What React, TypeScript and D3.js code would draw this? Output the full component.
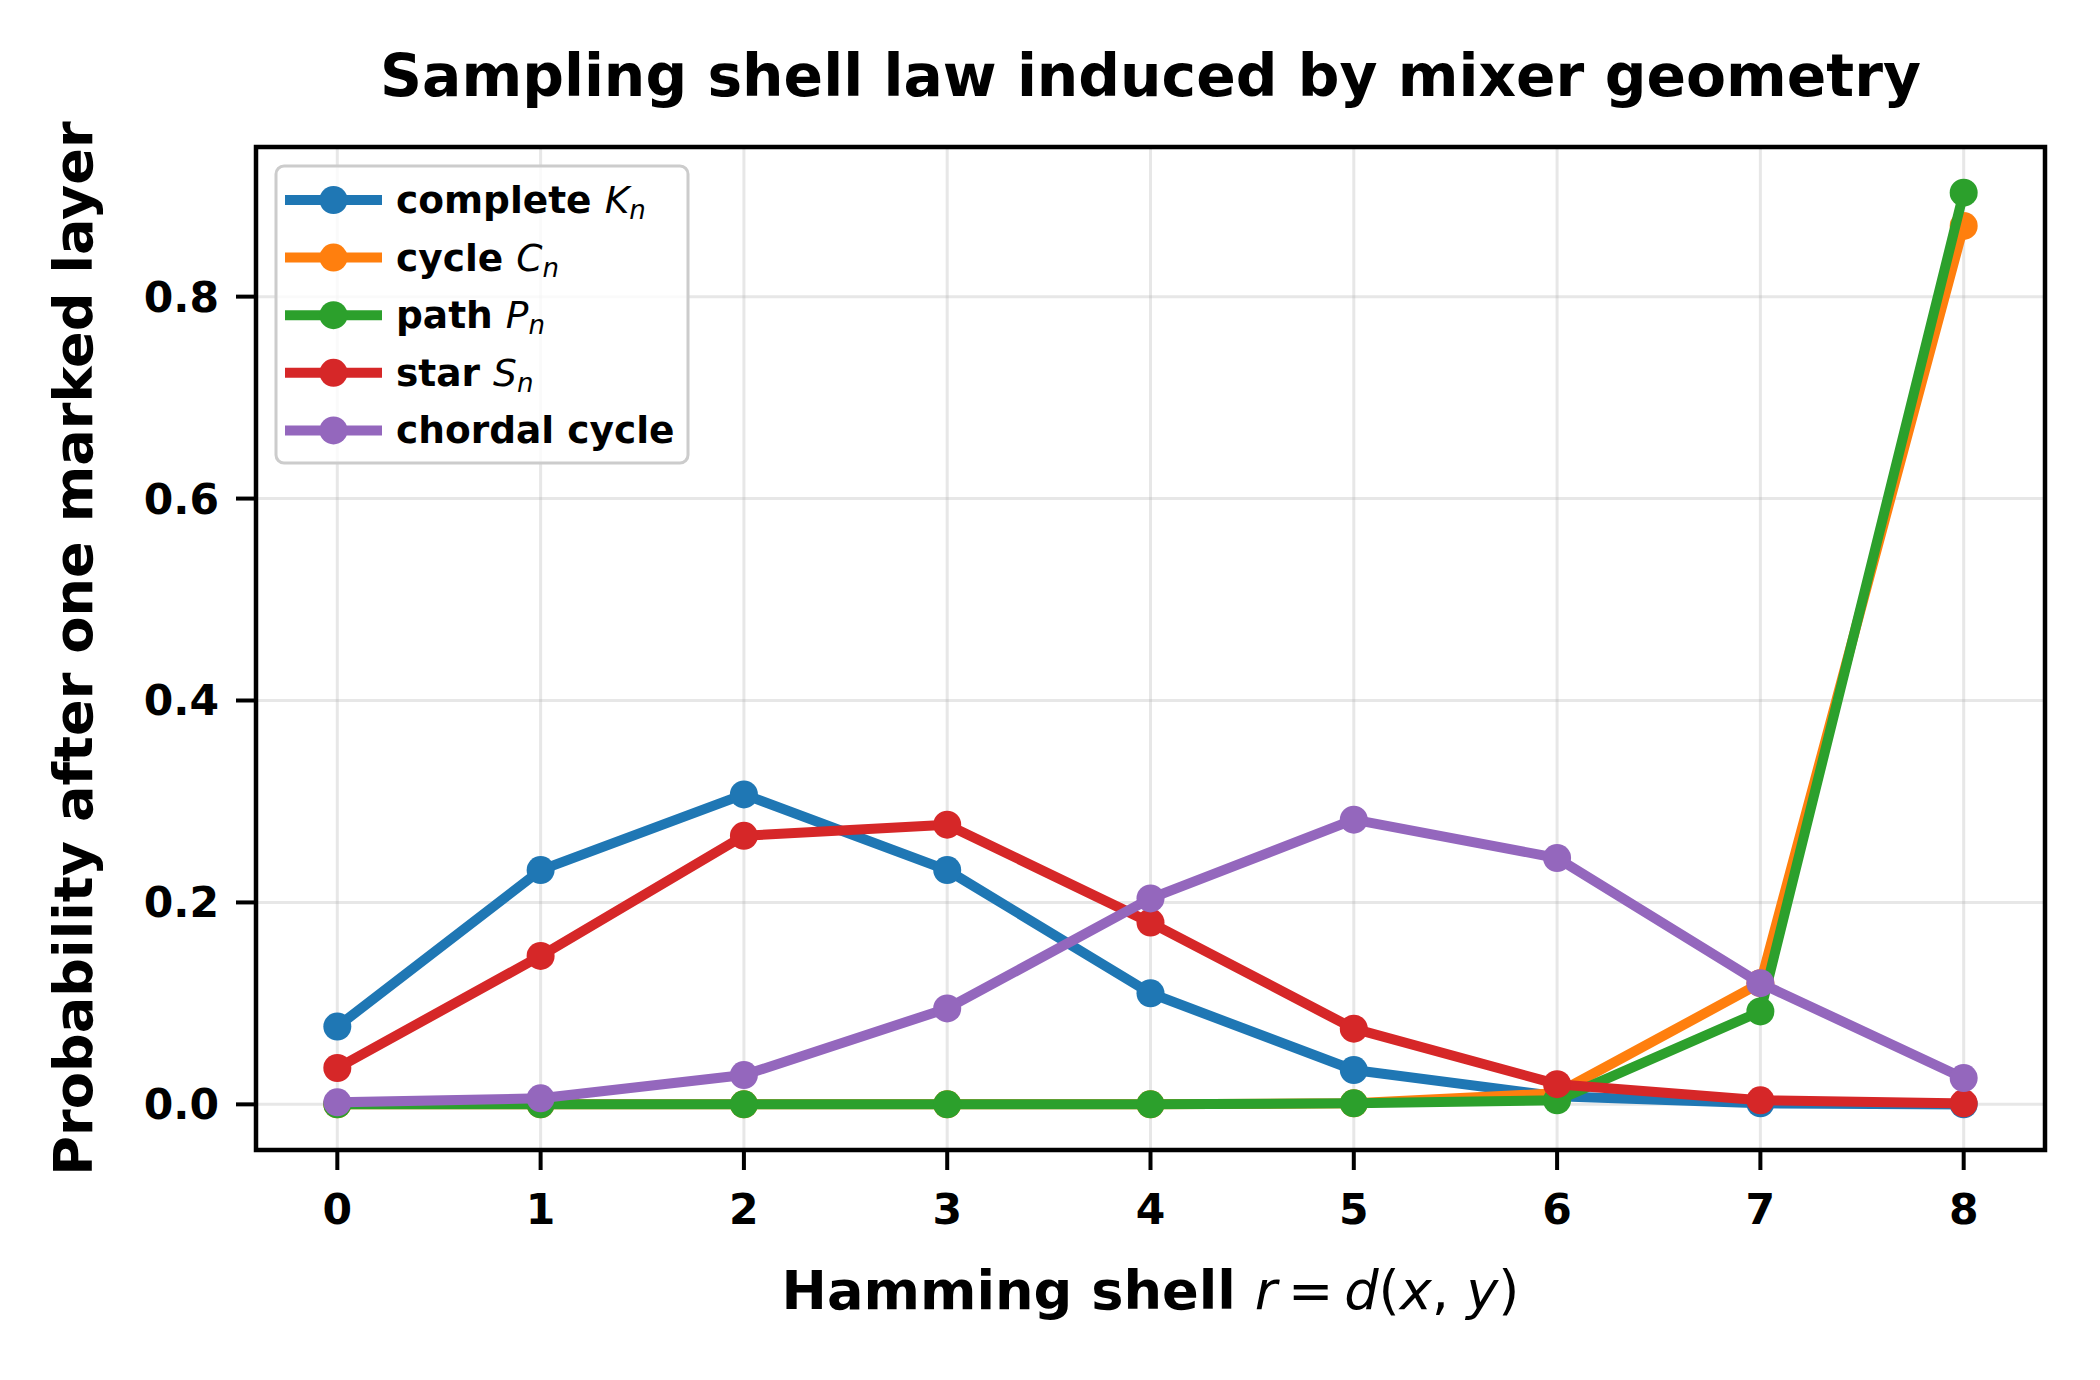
import React, { useEffect, useRef } from "react";
import * as d3 from "d3";

// Hamming shell r = 0..8
const shells = [0, 1, 2, 3, 4, 5, 6, 7, 8];

// probability per shell
const completeK = [0.077, 0.232, 0.307, 0.232, 0.11, 0.034, 0.008, 0.001, 0.0];
const cycleC = [0.0, 0.0, 0.0, 0.0, 0.0, 0.001, 0.011, 0.12, 0.87];
const pathP = [0.0, 0.0, 0.0, 0.0, 0.0, 0.001, 0.004, 0.092, 0.903];
const starS = [0.036, 0.147, 0.266, 0.277, 0.18, 0.075, 0.02, 0.004, 0.001];
const chordal = [0.002, 0.006, 0.029, 0.095, 0.204, 0.282, 0.244, 0.12, 0.026];

const yTicks = [0.0, 0.2, 0.4, 0.6, 0.8];

const series = [
  { word: "complete", math: "K", color: "#1f77b4", values: completeK },
  { word: "cycle", math: "C", color: "#ff7f0e", values: cycleC },
  { word: "path", math: "P", color: "#2ca02c", values: pathP },
  { word: "star", math: "S", color: "#d62728", values: starS },
  { word: "chordal cycle", math: "", color: "#9467bd", values: chordal },
];

const FONT = "'DejaVu Sans', sans-serif";

export default function App() {
  const ref = useRef<SVGSVGElement>(null);

  useEffect(() => {
    document.body.style.margin = "0";
    if (!ref.current) return;
    const svg = d3.select(ref.current);
    svg.selectAll("*").remove();

    const W = 2100;
    const H = 1380;
    const plot = { left: 256, right: 2045, top: 147, bottom: 1150 };

    const x = d3.scaleLinear().domain([-0.4, 8.4]).range([plot.left, plot.right]);
    const y = d3.scaleLinear().domain([-0.0452, 0.9482]).range([plot.bottom, plot.top]);

    svg.append("rect").attr("width", W).attr("height", H).attr("fill", "#fff");

    // grid
    const grid = svg.append("g").attr("stroke", "#b0b0b0").attr("stroke-opacity", 0.3).attr("stroke-width", 3);
    shells.forEach((s) => {
      grid.append("line").attr("x1", x(s)).attr("x2", x(s)).attr("y1", plot.top).attr("y2", plot.bottom);
    });
    yTicks.forEach((t) => {
      grid.append("line").attr("x1", plot.left).attr("x2", plot.right).attr("y1", y(t)).attr("y2", y(t));
    });

    // series lines + markers
    const line = d3
      .line<number>()
      .x((_, i) => x(shells[i]))
      .y((d) => y(d));

    series.forEach((s) => {
      const g = svg.append("g");
      g.append("path")
        .datum(s.values)
        .attr("fill", "none")
        .attr("stroke", s.color)
        .attr("stroke-width", 10)
        .attr("stroke-linejoin", "round")
        .attr("stroke-linecap", "square")
        .attr("d", line);
      g.selectAll("circle")
        .data(s.values)
        .join("circle")
        .attr("cx", (_, i) => x(shells[i]))
        .attr("cy", (d) => y(d))
        .attr("r", 14)
        .attr("fill", s.color);
    });

    // spines
    svg.append("rect")
      .attr("x", plot.left)
      .attr("y", plot.top)
      .attr("width", plot.right - plot.left)
      .attr("height", plot.bottom - plot.top)
      .attr("fill", "none")
      .attr("stroke", "#000")
      .attr("stroke-width", 4.5);

    // x ticks
    const xt = svg.append("g");
    shells.forEach((s) => {
      xt.append("line").attr("x1", x(s)).attr("x2", x(s)).attr("y1", plot.bottom).attr("y2", plot.bottom + 20)
        .attr("stroke", "#000").attr("stroke-width", 4);
      xt.append("text").attr("x", x(s)).attr("y", 1224).attr("text-anchor", "middle")
        .attr("font-family", FONT).attr("font-weight", "bold").attr("font-size", 42.5).text(String(s));
    });

    // y ticks
    const yt = svg.append("g");
    yTicks.forEach((t) => {
      yt.append("line").attr("x1", plot.left - 20).attr("x2", plot.left).attr("y1", y(t)).attr("y2", y(t))
        .attr("stroke", "#000").attr("stroke-width", 4);
      yt.append("text").attr("x", 219).attr("y", y(t) + 15).attr("text-anchor", "end")
        .attr("font-family", FONT).attr("font-weight", "bold").attr("font-size", 42.5).text(d3.format(".1f")(t));
    });

    // title
    svg.append("text")
      .attr("x", (plot.left + plot.right) / 2)
      .attr("y", 96)
      .attr("text-anchor", "middle")
      .attr("font-family", FONT)
      .attr("font-weight", "bold")
      .attr("font-size", 58.3)
      .text("Sampling shell law induced by mixer geometry");

    // x label with math part
    const xl = svg.append("text")
      .attr("x", (plot.left + plot.right) / 2)
      .attr("y", 1309)
      .attr("text-anchor", "middle")
      .attr("font-family", FONT)
      .attr("font-size", 54.2);
    xl.append("tspan").attr("font-weight", "bold").text("Hamming shell ");
    xl.append("tspan").attr("font-style", "italic").text("r");
    xl.append("tspan").text("\u2009=\u2009");
    xl.append("tspan").attr("font-style", "italic").text("d");
    xl.append("tspan").text("(");
    xl.append("tspan").attr("font-style", "italic").text("x");
    xl.append("tspan").text(", ");
    xl.append("tspan").attr("font-style", "italic").text("y");
    xl.append("tspan").text(")");

    // y label
    svg.append("text")
      .attr("transform", `translate(92,${(plot.top + plot.bottom) / 2}) rotate(-90)`)
      .attr("text-anchor", "middle")
      .attr("font-family", FONT)
      .attr("font-weight", "bold")
      .attr("font-size", 54.2)
      .text("Probability after one marked layer");

    // legend
    const lg = svg.append("g");
    lg.append("rect")
      .attr("x", 276).attr("y", 166).attr("width", 412).attr("height", 297)
      .attr("rx", 8).attr("fill", "#fff").attr("fill-opacity", 0.8)
      .attr("stroke", "#cccccc").attr("stroke-width", 3);
    series.forEach((s, i) => {
      const cy = 200 + i * 57.6;
      lg.append("line").attr("x1", 285).attr("x2", 382).attr("y1", cy).attr("y2", cy)
        .attr("stroke", s.color).attr("stroke-width", 10);
      lg.append("circle").attr("cx", 333.5).attr("cy", cy).attr("r", 14).attr("fill", s.color);
      const t = lg.append("text").attr("x", 396).attr("y", cy + 13)
        .attr("font-family", FONT).attr("font-size", 37.5);
      t.append("tspan").attr("font-weight", "bold").text(s.math ? s.word + " " : s.word);
      if (s.math) {
        t.append("tspan").attr("font-style", "italic").text(s.math);
        t.append("tspan").attr("font-style", "italic").attr("font-size", 26).attr("dy", 6).text("n");
      }
    });
  }, []);

  return <svg ref={ref} width={2100} height={1380} style={{ display: "block" }} />;
}
